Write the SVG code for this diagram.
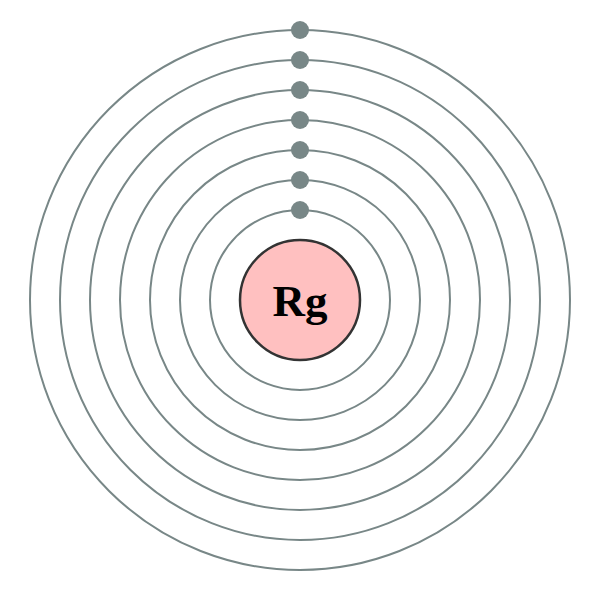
<svg xmlns="http://www.w3.org/2000/svg" width="600" height="600" viewBox="0 0 600 600">
<style>
.shell{fill:none;stroke:#788787;stroke-width:2}
.e{fill:#788787}
.nuc{fill:#ffc0c0;stroke:#333;stroke-width:2.5}
.lbl{font-family:"Liberation Serif","DejaVu Serif",serif;font-weight:bold;font-size:45px;fill:#000}
</style>
<rect width="600" height="600" fill="#fff"/>
<g id="shells">
<circle class="shell" cx="300" cy="300" r="90"/>
<circle class="shell" cx="300" cy="300" r="120"/>
<circle class="shell" cx="300" cy="300" r="150"/>
<circle class="shell" cx="300" cy="300" r="180"/>
<circle class="shell" cx="300" cy="300" r="210"/>
<circle class="shell" cx="300" cy="300" r="240"/>
<circle class="shell" cx="300" cy="300" r="270"/>
</g>
<g id="electrons">
<circle class="e" cx="300" cy="210" r="9"/>
<circle class="e" cx="300" cy="180" r="9"/>
<circle class="e" cx="300" cy="150" r="9"/>
<circle class="e" cx="300" cy="120" r="9"/>
<circle class="e" cx="300" cy="90" r="9"/>
<circle class="e" cx="300" cy="60" r="9"/>
<circle class="e" cx="300" cy="30" r="9"/>
</g>
<g id="nucleus">
<circle class="nuc" cx="300" cy="300" r="60"/>
<text class="lbl" x="300" y="316" text-anchor="middle">Rg</text>
</g>
</svg>
